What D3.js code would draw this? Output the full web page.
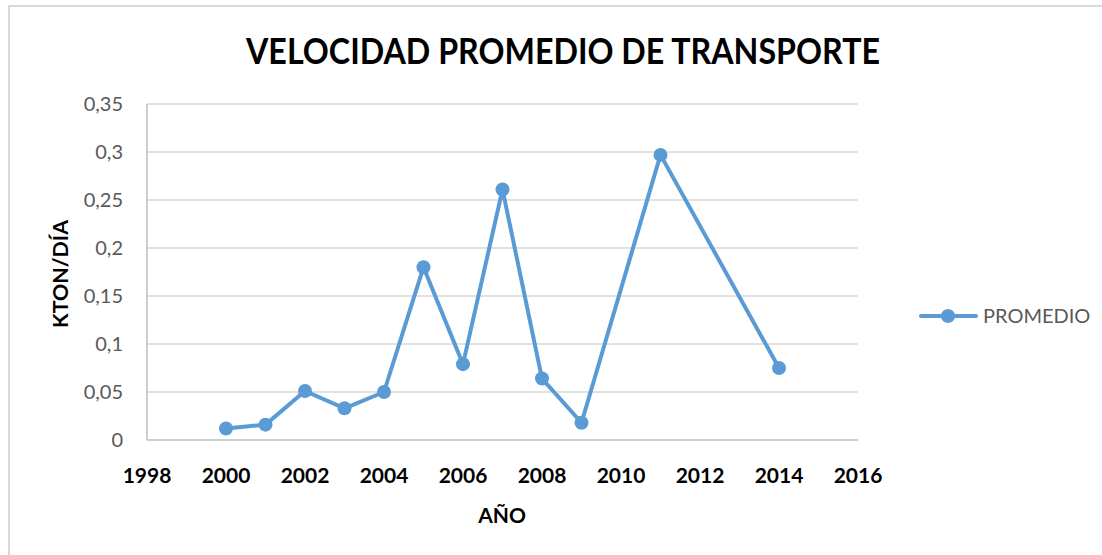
<!DOCTYPE html>
<html>
<head>
<meta charset="utf-8">
<script src="https://cdn.jsdelivr.net/npm/d3@7"></script>
<style>
  html, body { margin: 0; padding: 0; background: #fff; }
  svg { display: block; }
</style>
</head>
<body>
<svg id="chart" width="1102" height="555"></svg>
<script>
// ---- data ----
const years = [2000, 2001, 2002, 2003, 2004, 2005, 2006, 2007, 2008, 2009, 2011, 2014];
const promedio = [0.012, 0.016, 0.051, 0.033, 0.050, 0.180, 0.079, 0.261, 0.064, 0.018, 0.297, 0.075];
const xTicks = [1998, 2000, 2002, 2004, 2006, 2008, 2010, 2012, 2014, 2016];
const yTicks = [0, 0.05, 0.1, 0.15, 0.2, 0.25, 0.3, 0.35];
const seriesName = "PROMEDIO";
const title = "VELOCIDAD PROMEDIO DE TRANSPORTE";
const xTitle = "AÑO";
const yTitle = "KTON/DÍA";

const svg = d3.select("#chart");
const font = "Lato, 'Open Sans', sans-serif";
const blue = "#5B9BD5";

// chart border
svg.append("rect").attr("x", 9).attr("y", 6).attr("width", 1102).attr("height", 560)
  .attr("fill", "none").attr("stroke", "#d9d9d9").attr("stroke-width", 2);

const x = d3.scaleLinear().domain([1998, 2016]).range([147, 858]);
const y = d3.scaleLinear().domain([0, 0.35]).range([440, 104]);

// gridlines
svg.append("g").selectAll("line").data(yTicks.filter(d => d > 0)).join("line")
  .attr("x1", x(1998)).attr("x2", x(2016))
  .attr("y1", d => y(d)).attr("y2", d => y(d))
  .attr("stroke", "#d9d9d9").attr("stroke-width", 1.5);

// axes lines
svg.append("line").attr("x1", x(1998)).attr("x2", x(1998)).attr("y1", y(0.35)).attr("y2", y(0))
  .attr("stroke", "#bfbfbf").attr("stroke-width", 1.5);
svg.append("line").attr("x1", x(1998)).attr("x2", x(2016)).attr("y1", y(0)).attr("y2", y(0))
  .attr("stroke", "#bfbfbf").attr("stroke-width", 1.5);

// y tick labels
const fmt = d => String(d).replace(".", ",");
svg.append("g").selectAll("text").data(yTicks).join("text")
  .attr("x", 123).attr("y", d => y(d)).attr("dy", "0.36em")
  .attr("text-anchor", "end").attr("font-family", font).attr("font-size", 20)
  .attr("fill", "#595959").text(fmt);

// x tick labels
svg.append("g").selectAll("text").data(xTicks).join("text")
  .attr("x", d => x(d)).attr("y", 483)
  .attr("text-anchor", "middle").attr("font-family", font).attr("font-size", 21)
  .attr("font-weight", "bold").attr("fill", "#000").text(d => d);

// title
svg.append("text").attr("x", 563).attr("y", 64).attr("text-anchor", "middle")
  .attr("font-family", font).attr("font-size", 37).attr("font-weight", "bold")
  .attr("fill", "#000").attr("textLength", 634).attr("lengthAdjust", "spacingAndGlyphs")
  .text(title);

// axis titles
svg.append("text").attr("x", 502).attr("y", 523).attr("text-anchor", "middle")
  .attr("font-family", font).attr("font-size", 21).attr("font-weight", "bold")
  .attr("fill", "#000").text(xTitle);
svg.append("text").attr("transform", "translate(68,274) rotate(-90)").attr("text-anchor", "middle")
  .attr("font-family", font).attr("font-size", 21).attr("font-weight", "bold")
  .attr("fill", "#000").attr("textLength", 108).attr("lengthAdjust", "spacingAndGlyphs")
  .text(yTitle);

// series
const pts = years.map((yr, i) => ({ yr, v: promedio[i] }));
const line = d3.line().x(d => x(d.yr)).y(d => y(d.v));
svg.append("path").datum(pts).attr("d", line).attr("fill", "none")
  .attr("stroke", blue).attr("stroke-width", 4).attr("stroke-linejoin", "round");
svg.append("g").selectAll("circle").data(pts).join("circle")
  .attr("cx", d => x(d.yr)).attr("cy", d => y(d.v)).attr("r", 7).attr("fill", blue);

// legend
svg.append("line").attr("x1", 921).attr("x2", 976).attr("y1", 316).attr("y2", 316)
  .attr("stroke", blue).attr("stroke-width", 4).attr("stroke-linecap", "round");
svg.append("circle").attr("cx", 948).attr("cy", 316).attr("r", 7).attr("fill", blue);
svg.append("text").attr("x", 983).attr("y", 316).attr("dy", "0.36em")
  .attr("font-family", font).attr("font-size", 20).attr("fill", "#595959")
  .text(seriesName);
</script>
</body>
</html>
